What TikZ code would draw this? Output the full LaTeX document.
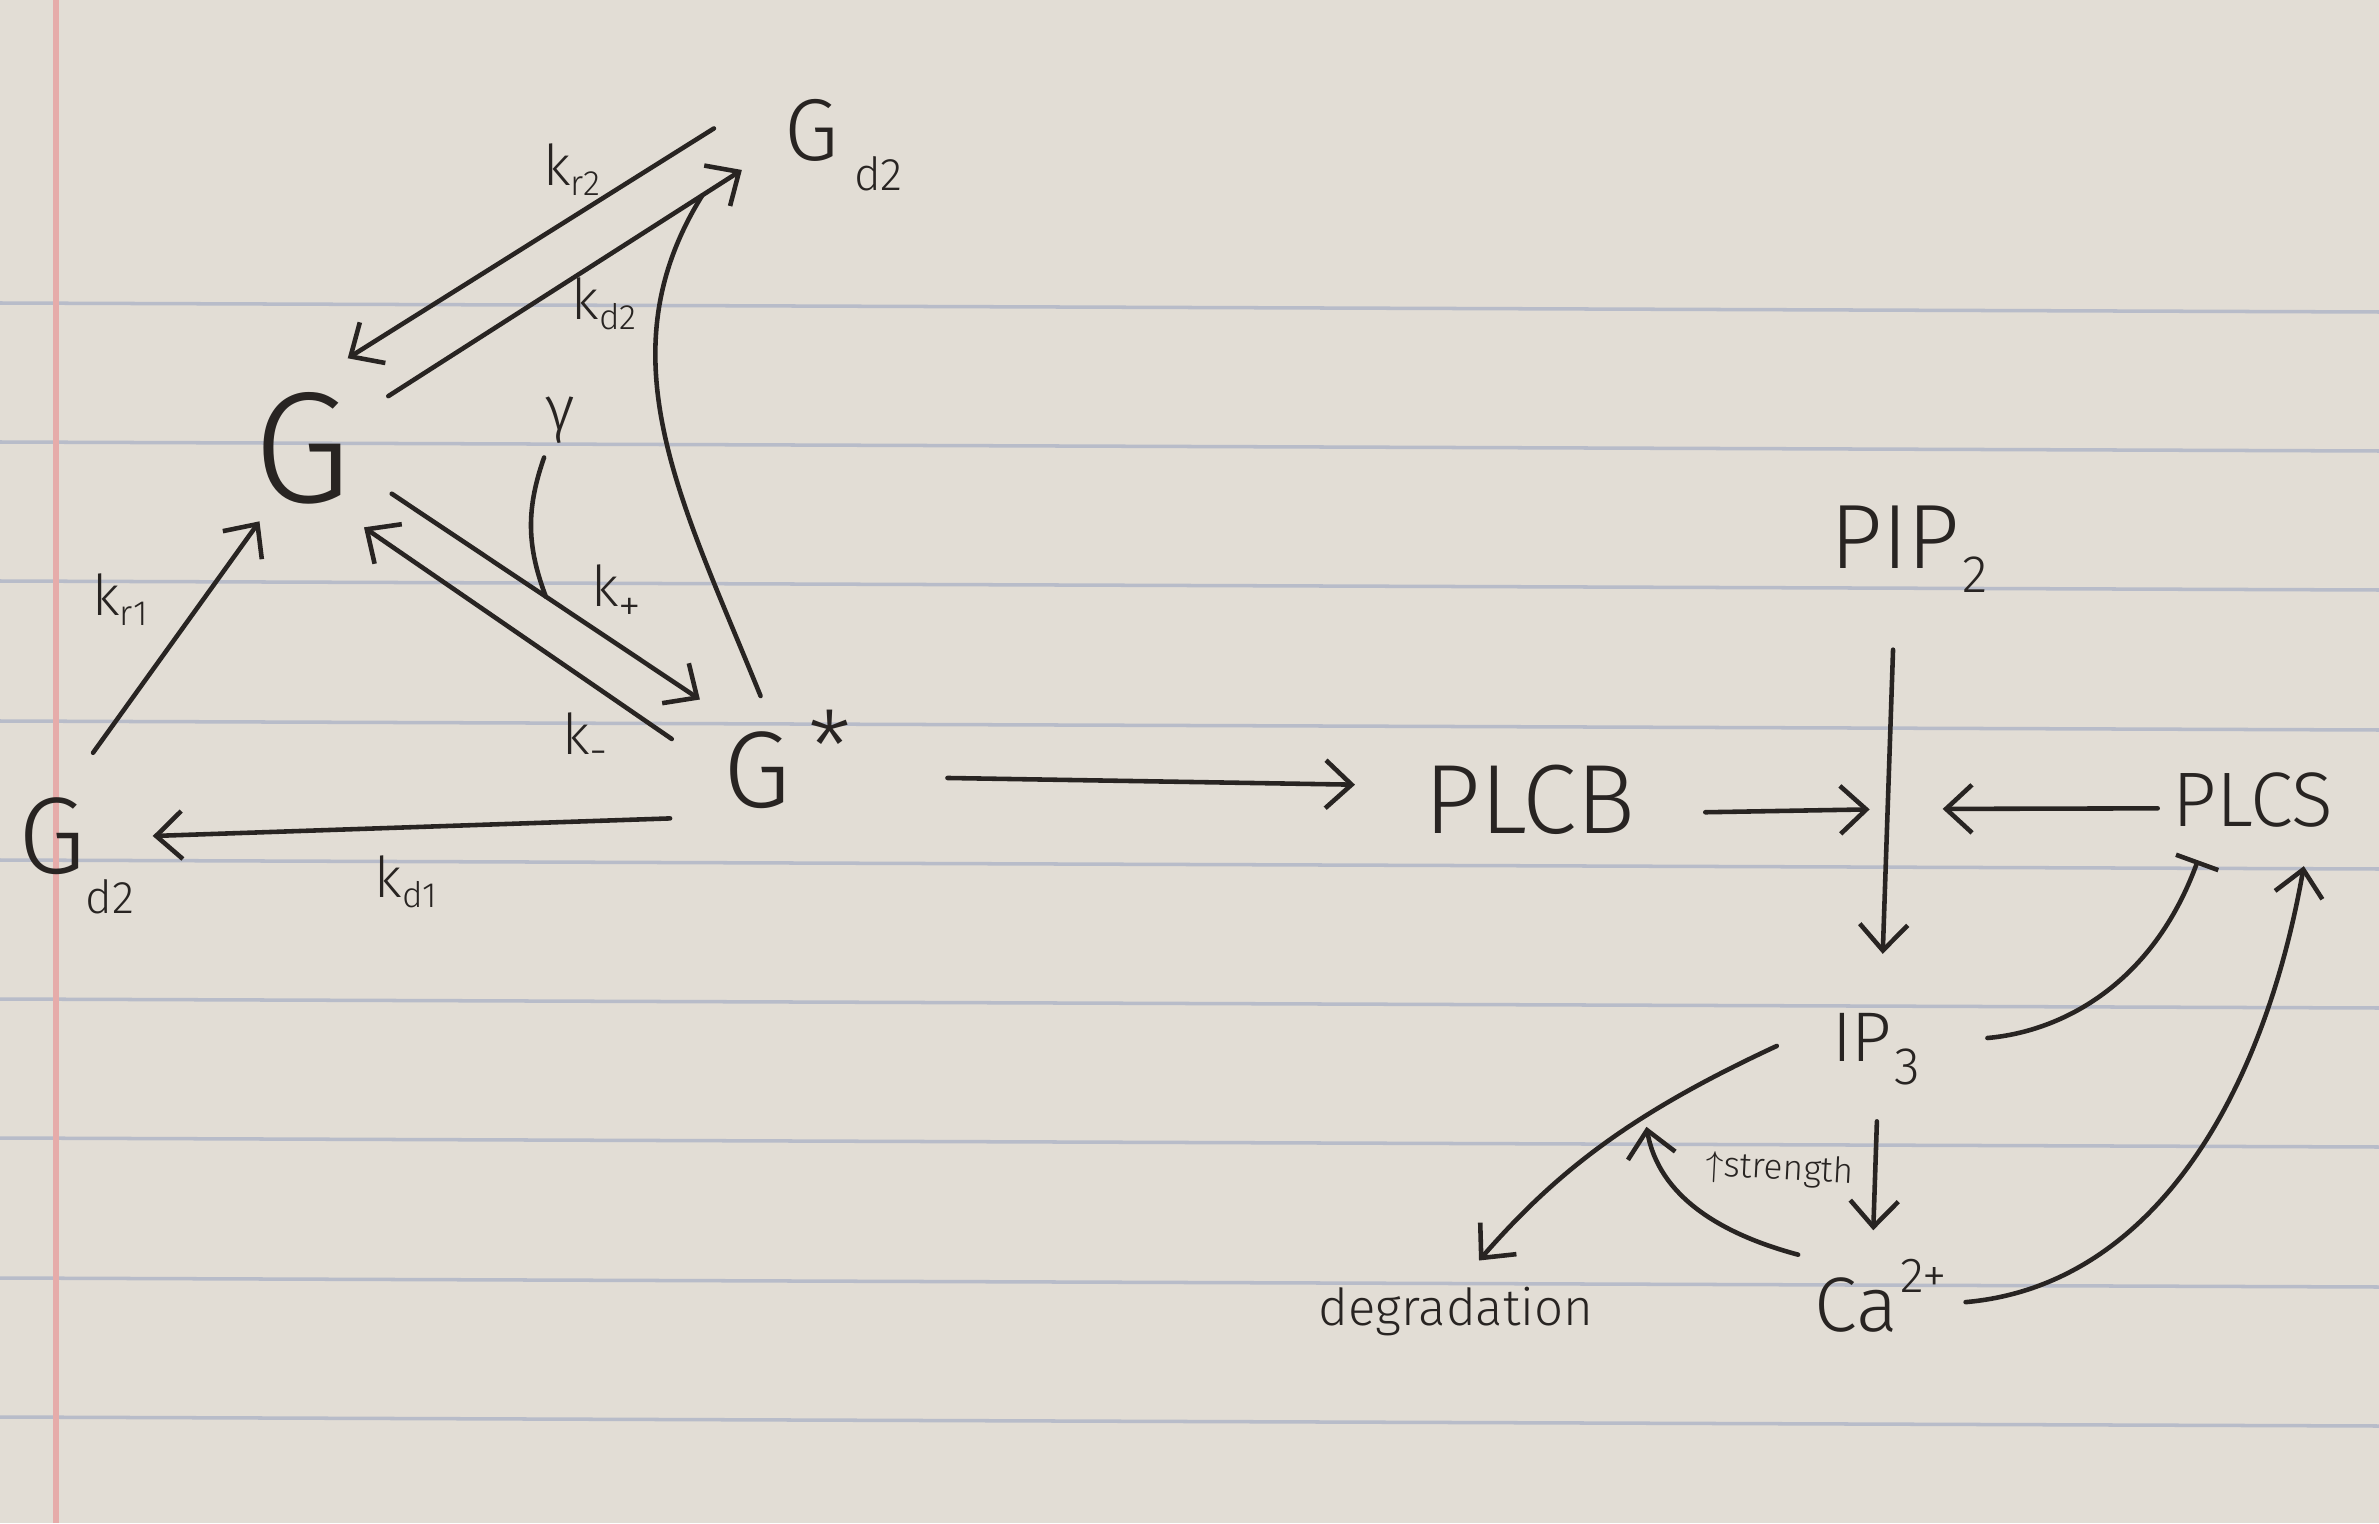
\documentclass[tikz,border=0pt]{standalone}
\usepackage{fontspec}
\newfontfamily\hand{Fira Sans Light}
\usetikzlibrary{arrows.meta,calc}
\definecolor{paper}{RGB}{226,221,213}
\definecolor{rulecol}{RGB}{184,188,201}
\definecolor{margincol}{RGB}{230,172,170}
\definecolor{ink}{RGB}{40,36,34}
\newcommand{\tagtxt}[4]{\rlap{\smash{\hspace{#1}\raisebox{#2}{\fontsize{#3}{#3}\selectfont #4}}}}

\begin{document}
\begin{tikzpicture}[
        >={Straight Barb[length=2.6mm,width=4.8mm]},
        line/.style={draw=ink, line width=1.3pt, line cap=round},
        conn/.style={line, ->},
        inh/.style={line, -{Bar[width=4.5mm,line width=1.3pt]}},
        spot/.style={circle, inner sep=0pt, text=ink},
        klab/.style={inner sep=0pt, text=ink, font=\hand\fontsize{16}{16}\selectfont}
    ]
        \useasboundingbox (0,0) rectangle (23.79,15.23);
        \fill[paper] (0,0) rectangle (23.79,15.23);
        \foreach \ly in {12.20,10.81,9.42,8.02,6.63,5.24,3.85,2.45,1.06}
            \draw[rulecol, line width=1pt] (0,\ly) -- (23.79,\ly-0.09);
        \draw[margincol, line width=1.6pt] (0.56,0) -- (0.56,15.23);

        \node[spot, minimum size=2cm,    font=\hand\fontsize{45}{45}\selectfont] (g)    at (3.02,10.75) {G};
        \node[spot, minimum size=1.8cm,  font=\hand\fontsize{25}{25}\selectfont] (gdt)  at (8.12,13.93) {G\tagtxt{0.15cm}{-0.3cm}{13}{d2}};
        \node[spot, minimum size=1.8cm,  font=\hand\fontsize{31}{31}\selectfont] (gs)   at (7.57,7.53)  {G\tagtxt{0.18cm}{0.25cm}{28}{*}};
        \node[spot, minimum size=2cm,    font=\hand\fontsize{31}{31}\selectfont] (gdb)  at (0.52,6.87)  {G\tagtxt{0cm}{-0.4cm}{13}{d2}};
        \node[spot, minimum size=0.8cm,  font=\hand\fontsize{18}{18}\selectfont] (gam)  at (5.60,11.03) {γ};

        \node[klab] (lkr2) at (5.72,13.53) {k\raisebox{-0.1cm}{\fontsize{10}{10}\selectfont r2}};
        \node[klab] (lkd2) at (6.04,12.19) {k\raisebox{-0.1cm}{\fontsize{10}{10}\selectfont d2}};
        \node[klab] (lkp)  at (6.16,9.30)  {k\raisebox{-0.15cm}{\fontsize{13}{13}\selectfont +}};
        \node[klab] (lkm)  at (5.85,7.83)  {k\raisebox{-0.12cm}{\fontsize{13}{13}\selectfont -}};
        \node[klab] (lkr1) at (1.20,9.23)  {k\raisebox{-0.1cm}{\fontsize{10}{10}\selectfont r1}};
        \node[klab] (lkd1) at (4.06,6.41)  {k\raisebox{-0.1cm}{\fontsize{10}{10}\selectfont d1}};

        \node[spot, minimum size=3.5cm,  font=\hand\fontsize{28}{28}\selectfont] (plcb) at (15.30,7.23) {PLCB};
        \node[spot, minimum size=2.24cm, font=\hand\fontsize{26}{26}\selectfont] (pip)  at (18.95,9.86) {PIP\tagtxt{0.02cm}{-0.24cm}{15}{2}};
        \node[spot, minimum size=1.9cm,  font=\hand\fontsize{22}{22}\selectfont] (plcs) at (22.53,7.23) {PLCS};
        \node[spot, minimum size=1.7cm,  font=\hand\fontsize{20}{20}\selectfont] (ip)   at (18.62,4.86) {IP\tagtxt{0.03cm}{-0.23cm}{15}{3}};
        \node[spot, minimum size=1.52cm, font=\hand\fontsize{22}{22}\selectfont] (ca)   at (18.56,2.18) {Ca\tagtxt{0.03cm}{0.39cm}{14}{2+}};
        \node[inner sep=0pt, text=ink,   font=\hand\fontsize{14.5}{14.5}\selectfont] (deg) at (14.56,2.11) {degradation};
        \node[inner sep=0pt, text=ink,   font=\hand\fontsize{10}{10}\selectfont, rotate=-3] (str) at (17.80,3.53) {$\uparrow$strength};

        \draw[conn, shorten <=0.9mm] (gdt.176.5) -- (g.63.4);
        \draw[conn, shorten >=-1mm] (g.31.8) -- (gdt.210);
        \coordinate (kdj) at ($(g.31.8)!0.91!(gdt.210)$);
        \draw[conn] (g.-27.8) -- (gs.129.5);
        \coordinate (kpj) at ($(g.-27.8)!0.5!(gs.129.5)$);
        \draw[conn] (gs.160.8) -- (g.-52);
        \draw[conn, shorten <=1mm] (gs.212) -- (gdb.0.6);
        \draw[conn, shorten <=-0.8mm, shorten >=-1.6mm] (gdb.63) -- (g.-121.8);
        \draw[line, shorten <=-1.8mm] (gs.92) to[out=112,in=-122] (kdj);
        \draw[line] (gam.-113) to[bend right=20] (kpj);

        \draw[conn, shorten <=10mm] (gs.-4.8) -- (plcb.175);
        \draw[conn] (pip.-91) -- (ip.76.8);
        \coordinate (rx) at ($(pip.-91)!0.524!(ip.76.8)$);
        \draw[conn, shorten >=1.8mm] (plcb.-4) -- (rx);
        \draw[conn, shorten >=5.5mm] (plcs.185.8) -- (rx);
        \draw[inh, shorten <=4mm, shorten >=-1.5mm] (ip.-3.2) to[out=5,in=-110] (plcs.231.5);
        \draw[conn, shorten <=3.3mm, shorten >=-1.7mm] (ca.0) to[out=5,in=-100] (plcs.-60);
        \draw[conn, shorten >=3.5mm] (ip.186.9) to[bend right=12] coordinate[pos=0.36] (dgj) (deg.north);
        \draw[conn] (ip.-80) -- (ca.77.6);
        \draw[conn, shorten >=1mm] (ca.139) to[out=165,in=-80] (dgj);
    \end{tikzpicture}
\end{document}
